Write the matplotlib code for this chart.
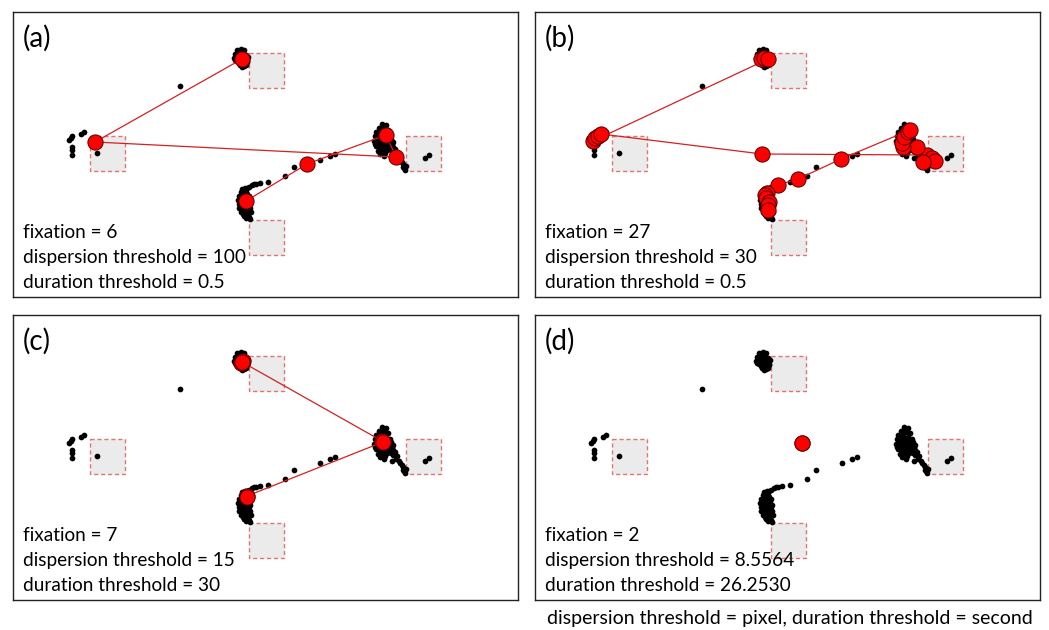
import matplotlib
matplotlib.use("Agg")
import matplotlib.pyplot as plt
from matplotlib.patches import Rectangle

plt.rcParams['font.family'] = ['Lato', 'DejaVu Sans']

# Screen extent (gaze coordinates, y grows downward)
SCREEN_W, SCREEN_H = 505, 285

# Areas of interest: (x, y) of top-left corner and side length
aoi_x = [236, 77, 393, 236]
aoi_y = [41, 124, 124, 208]
aoi_size = 35

# Raw gaze samples
gaze_x = [
    # upper cluster
    224, 228, 231, 222, 226, 230, 233, 221, 225, 229, 233, 224, 228, 232, 227, 231, 234,
    226, 223, 227, 231, 235, 222, 226, 230, 234, 226, 230, 229, 233,
    # stray sample
    167,
    # left samples
    56, 58, 59, 68, 71, 59, 59, 59, 84,
    # right cluster
    369, 373, 366, 371, 375, 363, 368, 373, 362, 366, 370, 375, 378, 361, 365, 369, 374,
    379, 363, 367, 372, 377, 382, 365, 370, 380, 384,
    371, 368, 364, 371, 377, 364, 368, 372, 376, 380, 362, 366, 370, 375, 380, 368, 374,
    378, 372, 367, 383, 386, 389, 391,
    371, 379, 387, 390, 390, 392, 393, 412, 416,
    # lower cluster
    247, 243, 239, 236, 232, 229, 228, 233, 226, 231, 236, 225, 230, 235, 226, 231, 236,
    226, 231, 237, 228, 233, 238, 231, 236, 237,
    241, 234, 230, 229, 234, 228, 233, 227, 232, 237, 228, 233, 229, 234, 230, 235, 233,
    # saccade samples
    255, 272, 281, 307, 317, 322,
]
gaze_y = [
    38, 37, 38, 42, 41, 42, 43, 46, 45, 46, 47, 49, 50, 51, 53, 54, 50,
    39, 44, 43, 45, 45, 48, 47, 49, 49, 51, 52, 55, 53,
    74,
    128, 126, 124, 122, 120, 135, 138, 143, 141,
    112, 113, 116, 117, 118, 120, 121, 122, 124, 125, 126, 126, 127, 129, 130, 131, 131,
    132, 134, 135, 136, 136, 137, 139, 140, 140, 141,
    114, 118, 122, 124, 124, 127, 128, 129, 129, 130, 132, 133, 133, 134, 135, 138, 138,
    138, 141, 142, 144, 146, 150, 156,
    144, 146, 148, 152, 155, 158, 154, 146, 143,
    171, 172, 173, 175, 176, 177, 180, 180, 184, 184, 184, 188, 188, 188, 192, 192, 192,
    196, 196, 196, 200, 200, 200, 204, 205, 207,
    172, 176, 179, 182, 182, 186, 186, 190, 190, 190, 194, 194, 198, 198, 202, 202, 206,
    170, 164, 155, 148, 144, 142,
]

# Detected fixations for each parameter setting (in temporal order)
fix_a_x = [229, 82, 383, 373, 294, 233]
fix_a_y = [47, 130, 145, 123, 152, 189]

fix_b_x = [226, 229, 233, 58, 60, 63, 66, 227, 392, 397, 400, 388, 382,
           368, 367, 369, 373, 375, 306, 263, 243, 232, 230, 231, 234, 233, 233]
fix_b_y = [47, 46, 47, 129, 126, 124, 122, 142, 143, 146, 149, 150, 135,
           135, 131, 125, 120, 118, 147, 167, 173, 181, 183, 186, 190, 193, 198]

fix_c_x = [228, 230, 229, 369, 370, 234, 234]
fix_c_y = [48, 46, 47, 126, 127, 181, 182]

fix_d_x = [267, 267]
fix_d_y = [128, 128]

panel_labels = ["(a)", "(b)", "(c)", "(d)"]
fixation_counts = ["6", "27", "7", "2"]
dispersion_thresholds = ["100", "30", "15", "8.5564"]
duration_thresholds = ["0.5", "0.5", "30", "26.2530"]
caption = "dispersion threshold = pixel, duration threshold = second"

fixations = [(fix_a_x, fix_a_y), (fix_b_x, fix_b_y),
             (fix_c_x, fix_c_y), (fix_d_x, fix_d_y)]

W, H = 1049, 630
fig = plt.figure(figsize=(W / 100, H / 100), dpi=100)

# panel boxes in pixels: left, top
boxes = [(13, 12), (535, 12), (13, 315), (535, 315)]
bw, bh = 505, 285

for i, (left, top) in enumerate(boxes):
    ax = fig.add_axes([left / W, 1 - (top + bh) / H, bw / W, bh / H])
    ax.set_xlim(0, SCREEN_W)
    ax.set_ylim(SCREEN_H, 0)
    ax.set_xticks([])
    ax.set_yticks([])
    for sp in ax.spines.values():
        sp.set_color("#222222")
        sp.set_linewidth(1.0)

    for x0, y0 in zip(aoi_x, aoi_y):
        ax.add_patch(Rectangle((x0, y0), aoi_size, aoi_size, facecolor="#ebebeb",
                               edgecolor="#e07575", linestyle=(0, (3, 2)),
                               linewidth=1.0, zorder=1))

    ax.scatter(gaze_x, gaze_y, s=17, color="black", linewidths=0, zorder=2)

    fx, fy = fixations[i]
    ax.plot(fx, fy, color="#d42020", linewidth=0.9, zorder=3)
    ax.scatter(fx, fy, s=120, color="#ff0000", edgecolors="#5a0000",
               linewidths=0.7, zorder=4)

    ax.text(10, 13, panel_labels[i], fontsize=20, va="top", ha="left", zorder=5)
    stats = [f"fixation = {fixation_counts[i]}",
             f"dispersion threshold = {dispersion_thresholds[i]}",
             f"duration threshold = {duration_thresholds[i]}"]
    for k, line in enumerate(stats):
        ax.text(10, 226 + 25 * k, line, fontsize=13.7, va="baseline", ha="left", zorder=5)

fig.text(790 / W, 1 - 624 / H, caption, fontsize=14, ha="center", va="baseline")

fig.savefig("out.png", dpi=100)
